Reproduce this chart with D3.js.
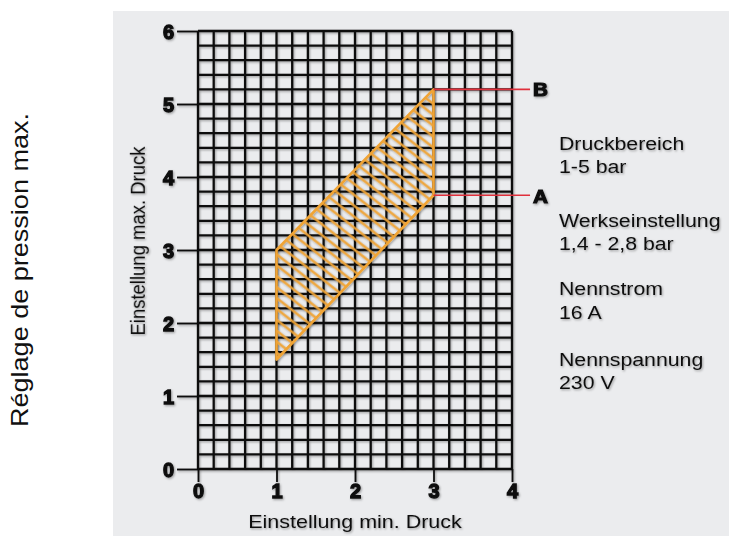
<!DOCTYPE html>
<html><head><meta charset="utf-8">
<script src="https://cdn.jsdelivr.net/npm/d3@7"></script>
<style>
html,body{margin:0;padding:0;background:#fff;}
svg{display:block;}
text{font-family:"Liberation Sans",Arial,sans-serif;fill:#111;}
</style></head>
<body>
<svg id="chart" width="729" height="536"></svg>
<script>
// ---- data ----
const xTickValues = [0, 1, 2, 3, 4];
const yTickValues = [0, 1, 2, 3, 4, 5, 6];
const gridStep = 0.2;
const regionMin = [1, 1, 3, 3];          // x (min pressure) of polygon vertices
const regionMax = [1.5, 3, 5.2, 3.75];   // y (max pressure) of polygon vertices
const markerLabels = ["B", "A"];
const markerValues = [5.2, 3.75];
const markerFrom = 3;
const markerTo = 4.23;
const noteLines = [
  ["Druckbereich", "1-5 bar"],
  ["Werkseinstellung", "1,4 - 2,8 bar"],
  ["Nennstrom", "16 A"],
  ["Nennspannung", "230 V"]
];
const xTitle = "Einstellung min. Druck";
const yTitle = "Einstellung max. Druck";
const sideTitle = "Réglage de pression max.";

// ---- drawing ----
const svg = d3.select("#chart");
const defs = svg.append("defs");
const sh = defs.append("filter").attr("id","sh").attr("x","-10%").attr("y","-10%").attr("width","130%").attr("height","130%");
sh.append("feDropShadow").attr("dx",1).attr("dy",1.2).attr("stdDeviation",1).attr("flood-color","#000").attr("flood-opacity",0.35);

// panel
svg.append("rect").attr("x",113).attr("y",11).attr("width",729-113).attr("height",536-11).attr("fill","#ebecee");

const x = d3.scaleLinear().domain([0,4]).range([198,512]);
const y = d3.scaleLinear().domain([0,6]).range([469,31]);

const gridG = svg.append("g").attr("filter","url(#sh)");
const vx = d3.range(0, 4 + 1e-9, gridStep);
const hy = d3.range(0, 6 + 1e-9, gridStep);
gridG.selectAll("line.v").data(vx).join("line").attr("class","v")
  .attr("x1",d=>x(d)).attr("x2",d=>x(d)).attr("y1",y(6)).attr("y2",y(0))
  .attr("stroke","#111").attr("stroke-width",2.3);
gridG.selectAll("line.h").data(hy).join("line").attr("class","h")
  .attr("y1",d=>y(d)).attr("y2",d=>y(d)).attr("x1",x(0)).attr("x2",x(4))
  .attr("stroke","#111").attr("stroke-width",2.3);

// axes
const yAxis = d3.axisLeft(y).tickValues(yTickValues).tickSize(21).tickPadding(3).tickFormat(d3.format("d"));
const ya = svg.append("g").attr("transform",`translate(${x(0)},0)`).attr("filter","url(#sh)").call(yAxis);
ya.select(".domain").remove();
ya.selectAll(".tick line").attr("stroke","#111").attr("stroke-width",1.8);
ya.selectAll(".tick text").attr("font-size",20).attr("font-weight","bold")
  .attr("font-family","'Liberation Sans',Arial,sans-serif").attr("fill","#111")
  .attr("stroke","#111").attr("stroke-width",1.3).attr("dy","0.36em");

const xAxis = d3.axisBottom(x).tickValues(xTickValues).tickSize(13).tickPadding(4).tickFormat(d3.format("d"));
const xa = svg.append("g").attr("transform",`translate(0,${y(0)})`).attr("filter","url(#sh)").call(xAxis);
xa.select(".domain").remove();
xa.selectAll(".tick line").attr("stroke","#111").attr("stroke-width",1.8);
xa.selectAll(".tick text").attr("font-size",20).attr("font-weight","bold")
  .attr("font-family","'Liberation Sans',Arial,sans-serif").attr("fill","#111")
  .attr("stroke","#111").attr("stroke-width",1.3).attr("dy","0.6em");

// hatched region
const pts = regionMin.map((v,i)=>[x(v), y(regionMax[i])]);
const pat = defs.append("pattern").attr("id","hatch").attr("patternUnits","userSpaceOnUse")
  .attr("width",20).attr("height",8.6).attr("patternTransform","rotate(38)");
pat.append("line").attr("x1",0).attr("x2",20).attr("y1",4.3).attr("y2",4.3)
  .attr("stroke","#f0a436").attr("stroke-width",2.2);
const regG = svg.append("g").attr("filter","url(#sh)");
regG.append("polygon").attr("points",pts.map(p=>p.join(",")).join(" "))
  .attr("fill","url(#hatch)").attr("stroke","#f0a436").attr("stroke-width",2.6).attr("stroke-linejoin","round");

// markers A / B
const mg = svg.append("g");
mg.selectAll("line").data(markerValues).join("line")
  .attr("x1",x(markerFrom)).attr("x2",x(markerTo)).attr("y1",d=>y(d)).attr("y2",d=>y(d))
  .attr("stroke","#e0303c").attr("stroke-width",1.6);
const mt = svg.append("g").attr("filter","url(#sh)");
mt.selectAll("text").data(markerLabels).join("text")
  .attr("transform",(d,i)=>`translate(${x(markerTo)+3},${y(markerValues[i]) + (d==="A"?8:7)}) scale(1.15,1)`)
  .attr("font-size",18).attr("font-weight","bold").attr("stroke","#111").attr("stroke-width",1.1)
  .text(d=>d);

// notes
const noteY = [[150,173],[227,250],[295,319],[366,389]];
const ng = svg.append("g").attr("filter","url(#sh)");
noteLines.forEach((lines,i)=>{
  lines.forEach((t,j)=>{
    ng.append("text").attr("transform",`translate(559,${noteY[i][j]}) scale(1.12,1)`)
      .attr("font-size",19).text(t);
  });
});

// axis titles
const tg = svg.append("g").attr("filter","url(#sh)");
tg.append("text").attr("transform",`translate(${(x(0)+x(4))/2},528) scale(1.13,1)`)
  .attr("text-anchor","middle").attr("font-size",19).text(xTitle);
tg.append("text").attr("transform",`translate(145,241) scale(1.12,1) rotate(-90)`)
  .attr("text-anchor","middle").attr("font-size",18.5).text(yTitle);

// side label (outside the panel)
svg.append("text").attr("transform","translate(28,270) rotate(-90)")
  .attr("text-anchor","middle").attr("font-size",24).attr("fill","#111")
  .attr("textLength",314).attr("lengthAdjust","spacingAndGlyphs").text(sideTitle);
</script>
</body></html>
